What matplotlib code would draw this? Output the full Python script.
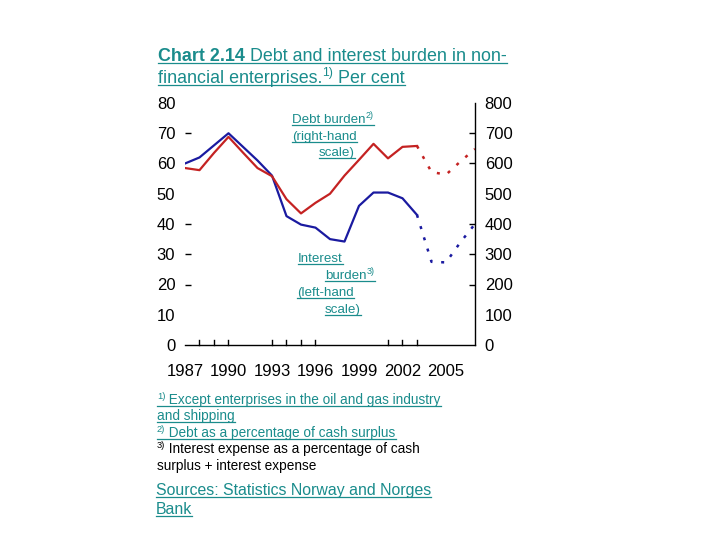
import matplotlib
matplotlib.use("Agg")
import matplotlib.pyplot as plt
from matplotlib.lines import Line2D

plt.rcParams['font.family'] = ['Liberation Sans', 'DejaVu Sans']

# ---- data ----
years_actual = [1987, 1988, 1989, 1990, 1991, 1992, 1993, 1994, 1995, 1996, 1997,
                1998, 1999, 2000, 2001, 2002, 2003]
interest_actual = [60, 62, 66, 70, 65.5, 61, 56, 42.6, 39.8, 38.8, 35, 34.2, 46,
                   50.4, 50.4, 48.5, 43]
debt_actual = [585, 578, 635, 688, 636, 585, 558, 482, 435, 470, 500, 560, 612,
               665, 617, 655, 658]
years_proj = [2003, 2004, 2005, 2006, 2007]
interest_proj = [43, 27.5, 27.3, 34, 40]
debt_proj = [658, 572, 563, 607, 648]

left_ticks = [0, 10, 20, 30, 40, 50, 60, 70, 80]
left_tick_marks = [20, 30, 40, 70]
right_ticks = [0, 100, 200, 300, 400, 500, 600, 700, 800]
right_tick_marks = [200, 300, 400, 600, 700]
x_labels = [1987, 1990, 1993, 1996, 1999, 2002, 2005]
x_tick_marks = [1988, 1989, 1990, 1993, 1994, 1995, 1996, 2001, 2002, 2003]

TEAL = '#1a8c8c'
BLUE = '#1a1aa0'
RED = '#c42222'
W, H = 720, 540

fig = plt.figure(figsize=(7.2, 5.4), dpi=100)
ax = fig.add_axes([185/W, 1-345/H, (475-185)/W, (345-103)/H])
ax2 = ax.twinx()

ax.plot(years_actual, interest_actual, color=BLUE, lw=1.6)
ax.plot(years_proj, interest_proj, color=BLUE, lw=1.8, ls=(0, (1.2, 3.5)))
ax2.plot(years_actual, debt_actual, color=RED, lw=1.6)
ax2.plot(years_proj, debt_proj, color=RED, lw=1.8, ls=(0, (1.2, 3.5)))

ax.set_xlim(1987, 2007)
ax.set_ylim(0, 80)
ax2.set_ylim(0, 800)

for a in (ax, ax2):
    for s in ('top', 'left', 'right'):
        a.spines[s].set_visible(False)
ax2.spines['bottom'].set_visible(False)
ax2.spines['right'].set_visible(True)
ax2.spines['right'].set_linewidth(1.0)
ax.spines['bottom'].set_linewidth(1.0)

tick_font = dict(size=12)

ax.set_yticks(left_ticks)
ax.set_yticklabels([str(v) for v in left_ticks], **tick_font)
ax.tick_params(axis='y', direction='in', length=4, width=1, pad=7)
for t, v in zip(ax.yaxis.get_major_ticks(), left_ticks):
    t.tick1line.set_visible(v in left_tick_marks)

ax2.set_yticks(right_ticks)
ax2.set_yticklabels([str(v) for v in right_ticks], **tick_font)
ax2.tick_params(axis='y', direction='in', length=4, width=1, pad=7)
for t, v in zip(ax2.yaxis.get_major_ticks(), right_ticks):
    t.tick2line.set_visible(v in right_tick_marks)

ax.set_xticks(x_labels)
ax.set_xticklabels([str(v) for v in x_labels], **tick_font)
ax.tick_params(axis='x', length=0, pad=14)
for yr in x_tick_marks:
    ax.plot([yr, yr], [0, 1.6], color='black', lw=1, clip_on=False)

fig.canvas.draw()
R = fig.canvas.get_renderer()


def line(x, y, parts, color=TEAL, size=10, ul=True):
    """parts: list of (text, kind) with kind in {'n', 'b', 's'} (normal, bold, superscript)."""
    cx = x
    for s, kind in parts:
        if kind == 's':
            t = fig.text(cx/W, 1-(y-size*0.55)/H, s, color=color, fontsize=size*0.68,
                         va='baseline', ha='left')
        else:
            t = fig.text(cx/W, 1-y/H, s, color=color, fontsize=size,
                         weight='bold' if kind == 'b' else 'normal',
                         va='baseline', ha='left')
        bb = t.get_window_extent(R)
        cx = bb.x1
    if ul:
        yl = H - y + 2.2
        yl = (y + 2.2)
        fig.add_artist(Line2D([x/W, cx/W], [1-yl/H, 1-yl/H], color=color, lw=0.9,
                              transform=fig.transFigure))


# title
line(158, 61, [('Chart 2.14', 'b'), (' Debt and interest burden in non-', 'n')], size=12.9)
line(158, 83, [('financial enterprises.', 'n'), ('1)', 's'), (' Per cent', 'n')], size=12.9)

# in-plot annotations
A = 9.6
line(292, 123, [('Debt burden', 'n'), ('2)', 's')], size=A)
line(292, 140, [('(right-hand', 'n')], size=A)
line(319, 156, [('scale)', 'n')], size=A)
line(298, 262, [('Interest', 'n')], size=A)
line(325, 279, [('burden', 'n'), ('3)', 's')], size=A)
line(297, 296, [('(left-hand', 'n')], size=A)
line(325, 313, [('scale)', 'n')], size=A)

# footnotes
F = 9.8
line(157, 404, [('1)', 's'), (' Except enterprises in the oil and gas industry', 'n')], size=F)
line(157, 420, [('and shipping', 'n')], size=F)
line(157, 437, [('2)', 's'), (' Debt as a percentage of cash surplus', 'n')], size=F)
line(157, 453, [('3)', 's'), (' Interest expense as a percentage of cash', 'n')], size=F,
     color='black', ul=False)
line(157, 470, [('surplus + interest expense', 'n')], size=F, color='black', ul=False)
line(156, 495, [('Sources: Statistics Norway and Norges', 'n')], size=11.4)
line(156, 514, [('Bank', 'n')], size=11.4)

fig.savefig('out.png', dpi=100)
